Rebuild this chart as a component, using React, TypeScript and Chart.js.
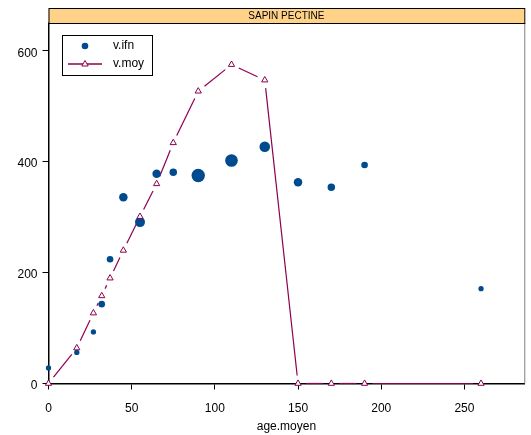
import React, { useEffect, useRef } from "react";
import { Chart, registerables } from "chart.js";

Chart.register(...registerables);

const stripTitle = "SAPIN PECTINE";
const xTitle = "age.moyen";
const ages = [0, 17, 27, 32, 37, 45, 55, 65, 75, 90, 110, 130, 150, 170, 190, 260];
const vIfn = [28, 56, 93, 143, 224, 336, 291, 378, 381, 375, 402, 427, 363, 354, 394, 171];
const ifnWeight = [7, 7, 7, 11, 11, 18, 25, 18, 14, 45, 40, 28, 18, 14, 11, 7];
const vMoy = [0, 64, 127, 158, 190, 240, 301, 360, 434, 527, 575, 547, 0, 0, 0, 0];
const xTicks = [0, 50, 100, 150, 200, 250];
const yTicks = [0, 200, 400, 600];

const BLUE = "#004A8F";
const MAROON = "#8C0050";
const FONT = "'Liberation Sans', Arial, sans-serif";
const GAP = 8;

const framePlugin = {
  id: "frame",
  beforeDatasetsDraw(chart: any) {
    const { ctx, chartArea } = chart;
    ctx.save();
    ctx.strokeStyle = "#808080";
    ctx.lineWidth = 1;
    ctx.beginPath();
    ctx.moveTo(chartArea.right + 0.5, chartArea.top);
    ctx.lineTo(chartArea.right + 0.5, chartArea.bottom);
    ctx.stroke();
    const top = 8;
    ctx.fillStyle = "#FFD28A";
    ctx.fillRect(chartArea.left, top, chartArea.right - chartArea.left, chartArea.top - top);
    ctx.strokeStyle = "#000";
    ctx.lineWidth = 1;
    ctx.strokeRect(chartArea.left + 0.5, top + 0.5, chartArea.right - chartArea.left, chartArea.top - top);
    ctx.fillStyle = "#000";
    ctx.font = `10px ${FONT}`;
    ctx.textAlign = "center";
    ctx.textBaseline = "middle";
    ctx.fillText(stripTitle, (chartArea.left + chartArea.right) / 2, (top + chartArea.top) / 2 + 1);
    ctx.restore();
  },
  afterDraw(chart: any) {
    const { ctx } = chart;
    ctx.save();
    ctx.fillStyle = "#fff";
    ctx.fillRect(62.5, 35.5, 90, 40);
    ctx.strokeStyle = "#000";
    ctx.lineWidth = 1;
    ctx.strokeRect(62.5, 35.5, 90, 40);
    ctx.fillStyle = BLUE;
    ctx.beginPath();
    ctx.arc(85, 46, 3.3, 0, Math.PI * 2);
    ctx.fill();
    ctx.strokeStyle = MAROON;
    ctx.lineWidth = 1.5;
    ctx.beginPath();
    ctx.moveTo(68, 64);
    ctx.lineTo(102, 64);
    ctx.stroke();
    ctx.fillStyle = "#fff";
    ctx.lineWidth = 1;
    ctx.beginPath();
    ctx.moveTo(85, 60.5);
    ctx.lineTo(88.2, 66);
    ctx.lineTo(81.8, 66);
    ctx.closePath();
    ctx.fill();
    ctx.stroke();
    ctx.fillStyle = "#000";
    ctx.font = `12px ${FONT}`;
    ctx.textAlign = "left";
    ctx.textBaseline = "middle";
    ctx.fillText("v.ifn", 113, 46);
    ctx.fillText("v.moy", 113, 64);
    ctx.restore();
  },
};

export default function App() {
  const ref = useRef<HTMLCanvasElement>(null);
  useEffect(() => {
    if (!ref.current) return;
    const ifnPts = ages.map((a, i) => ({ x: a, y: vIfn[i] }));
    const moyPts = ages.map((a, i) => ({ x: a, y: vMoy[i] }));
    const linePts = ages.map((a, i) => ({ x: a, y: vMoy[i] }));
    const chart = new Chart(ref.current, {
      type: "scatter",
      data: {
        datasets: [
          {
            label: "v.moy",
            data: moyPts,
            showLine: false,
            pointStyle: "triangle",
            pointRadius: 3.6,
            pointBorderWidth: 1,
            pointBorderColor: MAROON,
            pointBackgroundColor: "#fff",
            clip: false,
          } as any,
          {
            label: "v.ifn",
            data: ifnPts,
            pointStyle: "circle",
            pointRadius: ifnWeight.map((w) => Math.sqrt(w)),
            pointBorderWidth: 0,
            pointBackgroundColor: BLUE,
            clip: false,
          } as any,
          {
            label: "line",
            data: linePts,
            showLine: true,
            pointRadius: 0,
            borderColor: MAROON,
            borderWidth: 1.2,
            borderCapStyle: "butt",
            clip: false,
            segment: {
              // type="b": leave a gap around each point on the connecting line
              borderDash: (c: any) => {
                const L = Math.hypot(c.p1.x - c.p0.x, c.p1.y - c.p0.y);
                if (L <= 2 * GAP) return [0, L + 1000];
                return [0, GAP, L - 2 * GAP, GAP + 1000 + c.p0DataIndex * 0.001];
              },
              borderDashOffset: 0,
            },
          } as any,
        ],
      },
      options: {
        animation: false,
        responsive: false,
        layout: { padding: { top: 23, right: 4, left: 0, bottom: 0 } },
        plugins: { legend: { display: false }, tooltip: { enabled: false } },
        scales: {
          x: {
            type: "linear",
            min: 0,
            max: 286,
            afterBuildTicks: (s: any) => {
              s.ticks = xTicks.map((v) => ({ value: v }));
            },
            afterFit: (s: any) => {
              s.height = 51.5;
            },
            grid: { drawOnChartArea: false, tickLength: 6, color: "#000", lineWidth: 1 },
            border: { color: "#000", width: 1.5 },
            ticks: { color: "#000", font: { family: FONT, size: 12 }, padding: 12 },
            title: { display: true, text: xTitle, color: "#000", font: { family: FONT, size: 12 }, padding: { top: 0, bottom: 1 } },
          },
          y: {
            type: "linear",
            min: 0,
            max: 650,
            afterBuildTicks: (s: any) => {
              s.ticks = yTicks.map((v) => ({ value: v }));
            },
            afterFit: (s: any) => {
              s.width = 48.5;
            },
            grid: { drawOnChartArea: false, tickLength: 6, color: "#000", lineWidth: 1 },
            border: { color: "#000", width: 1.5 },
            ticks: {
              color: "#000",
              font: { family: FONT, size: 12, lineHeight: "5px" },
              padding: 5,
              callback: (v: any) => ["", String(v)],
            },
          },
        },
      } as any,
      plugins: [framePlugin],
    });
    return () => chart.destroy();
  }, []);
  return (
    <canvas
      ref={ref}
      width={531}
      height={435}
      style={{ position: "absolute", left: 0, top: 0, display: "block", background: "#fff" }}
    />
  );
}
